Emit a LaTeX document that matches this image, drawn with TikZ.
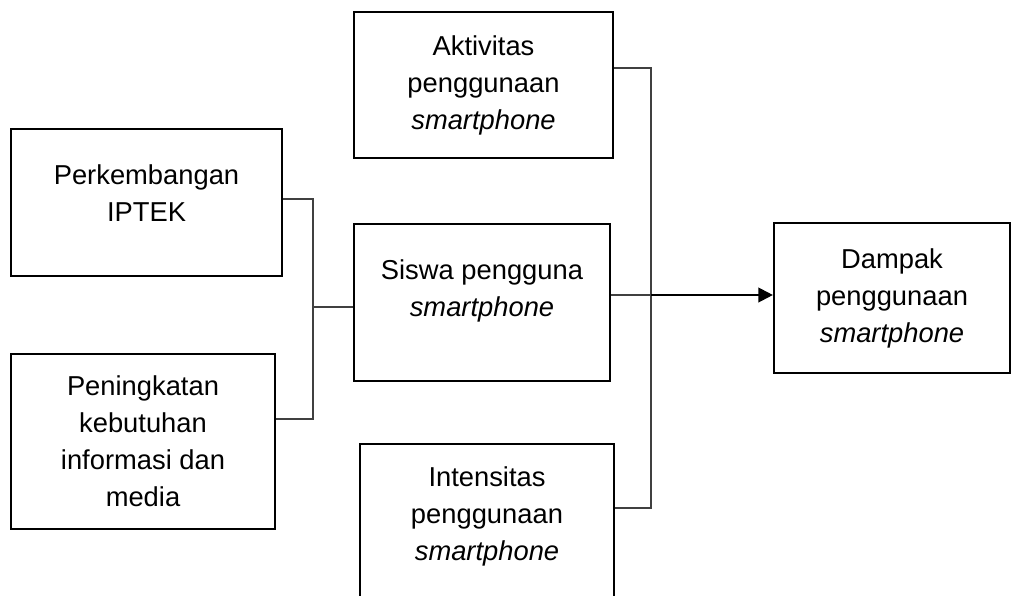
\documentclass[tikz,border=0pt]{standalone}
\usepackage{fontspec}
\setmainfont{Liberation Sans}
\usetikzlibrary{arrows.meta}

\begin{document}
\begin{tikzpicture}[x=0.75pt, y=-0.75pt]
  \tikzset{
    box_node/.style={rectangle, draw, line width=1.6pt, align=center, inner sep=2pt, font=\fontsize{20.5}{27.75}\selectfont},
    thin_line/.style={line width=0.8pt, draw=black!75},
    thick_arrow/.style={line width=1.6pt, -{Triangle[length=11pt, width=11pt]}}
  }

  % Bounding box con las medidas de la figura
  \useasboundingbox (0,0) rectangle (1021,596);

  % Cajas de la izquierda
  \node[box_node, minimum width=203pt, minimum height=110pt, text depth=13.5pt] (perkembangan) at (146.5,202.5) {Perkembangan\\IPTEK};
  \node[box_node, minimum width=198pt, minimum height=131pt] (peningkatan) at (143,441.5) {Peningkatan\\kebutuhan\\informasi dan\\media};

  % Cajas del centro
  \node[box_node, minimum width=194pt, minimum height=109.5pt] (aktivitas) at (483.5,85) {Aktivitas\\penggunaan\\\textit{smartphone}};
  \node[box_node, minimum width=192pt, minimum height=118pt, text depth=22pt] (siswa) at (482,302.5) {Siswa pengguna\\\textit{smartphone}};
  \node[box_node, minimum width=190.5pt, minimum height=120pt, text depth=15pt] (intensitas) at (487,524) {Intensitas\\penggunaan\\\textit{smartphone}};

  % Caja de la derecha
  \node[box_node, minimum width=177pt, minimum height=112.5pt] (dampak) at (892,298) {Dampak\\penggunaan\\\textit{smartphone}};

  % Puntos de quiebre de los conectores
  \coordinate (izq_arriba) at (313,199);
  \coordinate (izq_medio) at (313,307);
  \coordinate (izq_abajo) at (313,419);
  \coordinate (der_arriba) at (651,68);
  \coordinate (der_medio) at (651,295);
  \coordinate (der_abajo) at (651,508);

  % Conector izquierdo
  \draw[thin_line] (perkembangan.east |- izq_arriba) -- (izq_arriba) -- (izq_abajo) -- (peningkatan.east |- izq_abajo);
  \draw[thin_line] (izq_medio) -- (siswa.west |- izq_medio);

  % Conector derecho
  \draw[thin_line] (aktivitas.east |- der_arriba) -- (der_arriba) -- (der_abajo) -- (intensitas.east |- der_abajo);
  \draw[thin_line] (siswa.east |- der_medio) -- (der_medio);
  \draw[thick_arrow] (der_medio) -- (dampak.west |- der_medio);
\end{tikzpicture}
\end{document}
